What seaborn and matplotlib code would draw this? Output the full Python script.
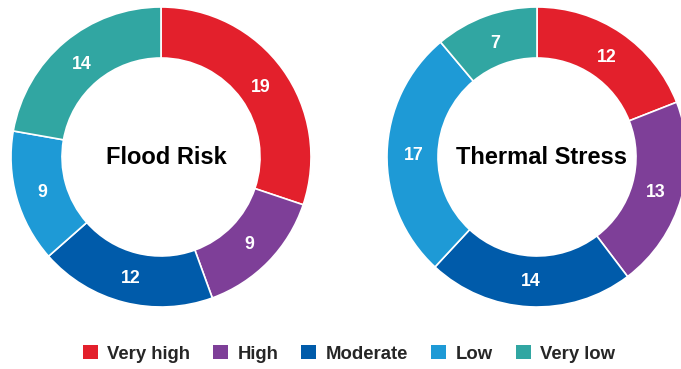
import numpy as np
import matplotlib
matplotlib.use("Agg")
import matplotlib.pyplot as plt
from matplotlib.patches import Patch
import seaborn as sns

sns.set_theme(style="white")
plt.rcParams["font.family"] = ["Liberation Sans", "DejaVu Sans"]

categories = ["Very high", "High", "Moderate", "Low", "Very low"]
flood_risk = [19, 9, 12, 9, 14]
thermal_stress = [12, 13, 14, 17, 7]
titles = ["Flood Risk", "Thermal Stress"]
palette = sns.color_palette(["#E3202C", "#7E3F98", "#005BAA", "#1E9AD6", "#31A6A2"])

W, H = 681, 369
DPI = 100
RING_PX = 150  # outer radius in pixels
fig = plt.figure(figsize=(W / DPI, H / DPI), dpi=DPI)

def pt_to_units(pt):
    # convert a font size in points to data units of a ring axes (radius 1 == RING_PX)
    return pt * DPI / 72 / RING_PX

def centred_text(ax, x, y, s, size, color):
    # place text so that the middle of the cap height sits on y
    cap = 0.716 * pt_to_units(size)
    ax.text(x, y - cap / 2, s, ha="center", va="baseline", fontsize=size,
            fontweight="bold", color=color)

def donut(ax, values, title):
    ring = 0.34
    ax.pie(values, colors=palette, startangle=90, counterclock=False, radius=1.0,
           wedgeprops=dict(width=ring, edgecolor="white", linewidth=1.2))
    total = sum(values)
    start = 90.0
    r = 0.82
    for v in values:
        sweep = v / total * 360
        mid = np.deg2rad(start - sweep / 2)
        centred_text(ax, r * np.cos(mid), r * np.sin(mid), str(v), 12.8, "white")
        start -= sweep
    centred_text(ax, 0.033, 0.011, title, 17, "black")
    ax.set_xlim(-1, 1)
    ax.set_ylim(-1, 1)
    ax.set_aspect("equal")
    ax.axis("off")

# each ring spans 300 px, centres at (161, 157) and (537, 157)
for cx, vals, title in [(161, flood_risk, titles[0]), (537, thermal_stress, titles[1])]:
    ax = fig.add_axes([(cx - RING_PX) / W, (H - 157 - RING_PX) / H,
                       2 * RING_PX / W, 2 * RING_PX / H])
    donut(ax, vals, title)

handles = [Patch(facecolor=c, edgecolor="none") for c in palette]
fig.legend(handles, categories, loc="center", bbox_to_anchor=(349 / W, 1 - 354 / H),
           ncol=5, frameon=False, handlelength=0.81, handleheight=0.81,
           handletextpad=0.52, columnspacing=1.24, borderpad=0,
           prop=dict(weight="bold", size=13.3))

fig.savefig("out.png", dpi=DPI)
